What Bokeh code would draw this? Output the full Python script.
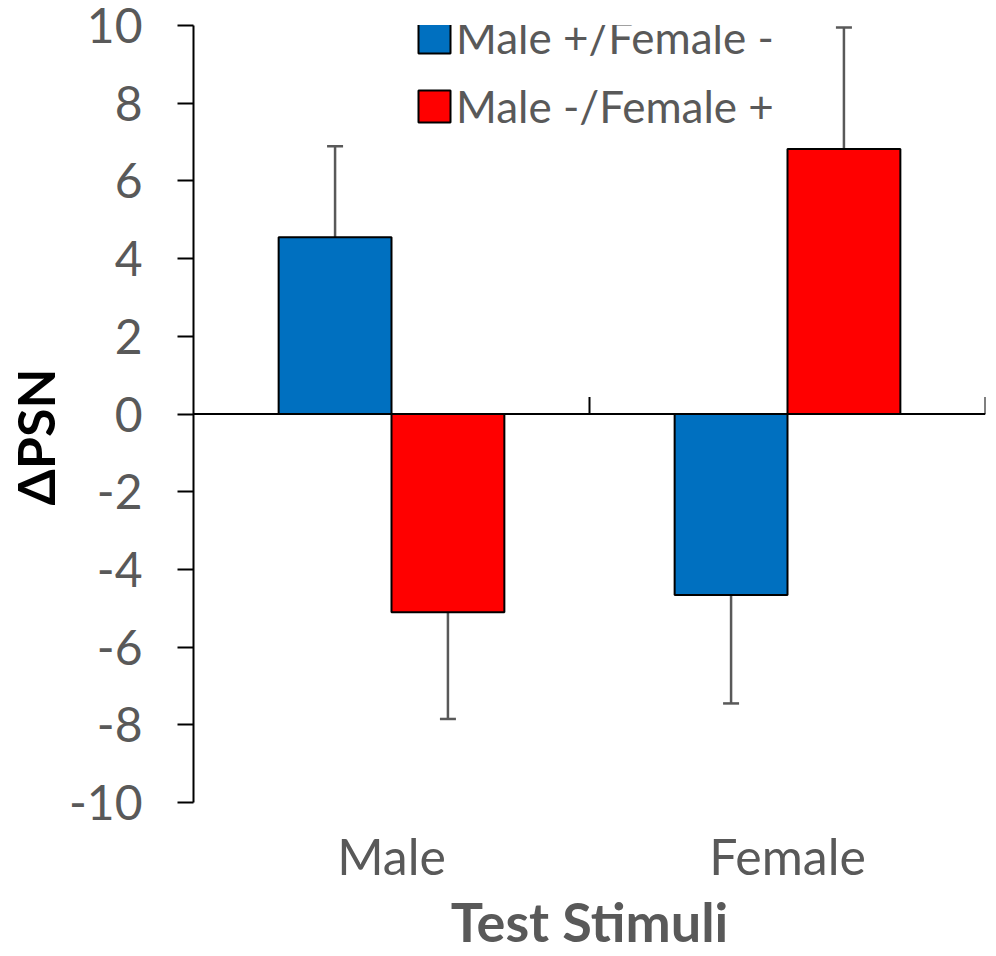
import numpy as np
from bokeh.plotting import figure
from bokeh.models import (Range1d, FixedTicker, Span, Whisker, TeeHead, Legend,
                          LegendItem, Title, ColumnDataSource)
from bokeh.embed import file_html
from bokeh.resources import INLINE

# ---- data ----
categories = ["Male", "Female"]
series_names = ["Male +/Female -", "Male -/Female +"]
blue_means = [4.55, -4.66]
blue_errs = [2.34, 2.79]
red_means = [-5.10, 6.82]
red_errs = [2.75, 3.13]
y_ticks = [-10, -8, -6, -4, -2, 0, 2, 4, 6, 8, 10]
y_tick_labels = ["-10", "-8", "-6", "-4", "-2", "0", "2", "4", "6", "8", "10"]

FONT = "Lato"
GRAY = "#595959"
BLUE = "#0070C0"
RED = "#FF0000"

bar_w = 0.285
centers = np.arange(len(categories)) + 0.5

p = figure(width=988, height=956, output_backend="svg", toolbar_location=None,
           x_range=Range1d(0, len(categories)), y_range=Range1d(-10, 10),
           min_border_left=193, min_border_right=3, min_border_top=25,
           min_border_bottom=154)
p.outline_line_color = None
p.xgrid.visible = False
p.ygrid.visible = False
p.background_fill_color = "white"

# y axis
p.yaxis.ticker = FixedTicker(ticks=y_ticks)
p.yaxis.major_label_overrides = {t: s for t, s in zip(y_ticks, y_tick_labels)}
p.yaxis.axis_line_width = 2
p.yaxis.axis_line_color = "black"
p.yaxis.major_tick_line_width = 2
p.yaxis.major_tick_line_color = "black"
p.yaxis.major_tick_out = 16
p.yaxis.major_tick_in = 0
p.yaxis.minor_tick_line_color = None
p.yaxis.major_label_text_font = FONT
p.yaxis.major_label_text_font_size = "48px"
p.yaxis.major_label_text_color = GRAY
p.yaxis.major_label_standoff = 35

# x axis (labels only)
p.xaxis.ticker = FixedTicker(ticks=list(centers))
p.xaxis.major_label_overrides = {float(c): n for c, n in zip(centers, categories)}
p.xaxis.axis_line_color = None
p.xaxis.major_tick_line_color = None
p.xaxis.minor_tick_line_color = None
p.xaxis.major_label_text_font = FONT
p.xaxis.major_label_text_font_size = "50px"
p.xaxis.major_label_text_color = GRAY
p.xaxis.major_label_standoff = 17
p.xaxis.axis_label = "Test Stimuli"
p.xaxis.axis_label_text_font = FONT
p.xaxis.axis_label_text_font_size = "54px"
p.xaxis.axis_label_text_font_style = "bold"
p.xaxis.axis_label_text_color = GRAY
p.xaxis.axis_label_standoff = 0

# bars
src_b = ColumnDataSource(dict(x=centers - bar_w / 2, top=blue_means,
                              up=np.array(blue_means) + np.array(blue_errs),
                              lo=np.array(blue_means) - np.array(blue_errs)))
src_r = ColumnDataSource(dict(x=centers + bar_w / 2, top=red_means,
                              up=np.array(red_means) + np.array(red_errs),
                              lo=np.array(red_means) - np.array(red_errs)))
rb = p.vbar(x="x", top="top", bottom=0, width=bar_w, source=src_b,
            fill_color=BLUE, line_color="black", line_width=2)
rr = p.vbar(x="x", top="top", bottom=0, width=bar_w, source=src_r,
            fill_color=RED, line_color="black", line_width=2)

# zero line + category boundary ticks
p.add_layout(Span(location=0, dimension="width", line_color="black", line_width=2))
px_per_unit = 777 / 20.0
bounds = np.arange(1, len(categories) + 1)
p.segment(x0=bounds, y0=0, x1=bounds, y1=17 / px_per_unit,
          line_color="black", line_width=2)

# error bars
for src in (src_b, src_r):
    p.add_layout(Whisker(source=src, base="x", upper="up", lower="lo",
                         line_color=GRAY, line_width=2.5,
                         upper_head=TeeHead(size=16, line_color=GRAY, line_width=2.5),
                         lower_head=TeeHead(size=16, line_color=GRAY, line_width=2.5)))

# legend
legend = Legend(items=[LegendItem(label=series_names[0], renderers=[rb]),
                       LegendItem(label=series_names[1], renderers=[rr])],
                location=(221, 670), glyph_width=40, glyph_height=40,
                label_standoff=2, padding=0, margin=0, spacing=17,
                label_text_font=FONT, label_text_font_size="44px",
                label_text_color=GRAY, border_line_color=None,
                background_fill_alpha=0)
p.add_layout(legend)

# y axis title (as a left title, placed like the reference)
p.add_layout(Title(text="ΔPSN", align="left", offset=297, standoff=0,
                   text_font=FONT, text_font_size="52px", text_font_style="bold",
                   text_color="black"), "left")

open("out.html", "w").write(file_html(p, INLINE))
